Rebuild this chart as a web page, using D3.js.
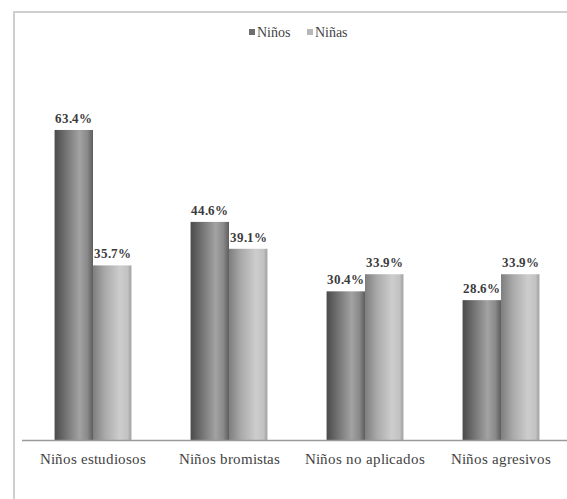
<!DOCTYPE html>
<html>
<head>
<meta charset="utf-8">
<script src="https://cdn.jsdelivr.net/npm/d3@7"></script>
<style>
  @font-face { font-family: "ChartSerif"; src: local("Liberation Serif"), local("LiberationSerif"); font-weight: normal; }
  @font-face { font-family: "ChartSerif"; src: local("Liberation Serif Bold"), local("LiberationSerif-Bold"); font-weight: bold; }
  html, body { margin: 0; padding: 0; background: #fff; }
  svg { display: block; }
</style>
</head>
<body>
<script>
// Chart data
const categories = ["Niños estudiosos", "Niños bromistas", "Niños no aplicados", "Niños agresivos"];
const seriesNames = ["Niños", "Niñas"];
const ninos = [63.4, 44.6, 30.4, 28.6];
const ninas = [35.7, 39.1, 33.9, 33.9];

const W = 567, H = 499;
const FONT = '"ChartSerif", "Liberation Serif", serif';
const svg = d3.select("body").append("svg").attr("width", W).attr("height", H)
  .style("font-family", FONT);

// Horizontal shading for the cylinder-like bars
const defs = svg.append("defs");
const gradDark = defs.append("linearGradient").attr("id", "gDark").attr("x1", 0).attr("x2", 1).attr("y1", 0).attr("y2", 0);
[[0, "#4a4a4a"], [0.35, "#7a7a7a"], [0.65, "#a2a2a2"], [0.85, "#8a8a8a"], [1, "#5e5e5e"]]
  .forEach(([o, c]) => gradDark.append("stop").attr("offset", o).attr("stop-color", c));
const gradLight = defs.append("linearGradient").attr("id", "gLight").attr("x1", 0).attr("x2", 1).attr("y1", 0).attr("y2", 0);
[[0, "#7e7e7e"], [0.3, "#a8a8a8"], [0.7, "#cdcdcd"], [0.9, "#c2c2c2"], [1, "#a0a0a0"]]
  .forEach(([o, c]) => gradLight.append("stop").attr("offset", o).attr("stop-color", c));

// Chart frame (top and left edges visible)
svg.append("path").attr("d", `M14,${H} L14,12 L${W},12`)
  .attr("fill", "none").attr("stroke", "#cfcfcf").attr("stroke-width", 2);

const baseY = 440;
const x0 = d3.scaleBand().domain(categories).range([25, 569]).paddingInner(0.435).paddingOuter(0.2175);
const x1 = d3.scaleBand().domain(seriesNames).range([0, x0.bandwidth()]);
const y = d3.scaleLinear().domain([0, 100]).range([baseY, baseY - 489]);

const rows = categories.map((c, i) => ({ cat: c, vals: [ninos[i], ninas[i]] }));

const groups = svg.append("g").selectAll("g").data(rows).join("g")
  .attr("transform", d => `translate(${x0(d.cat)},0)`);

groups.selectAll("rect").data(d => d.vals.map((v, j) => ({ v, s: seriesNames[j] })))
  .join("rect")
  .attr("x", d => x1(d.s))
  .attr("width", x1.bandwidth())
  .attr("y", d => y(d.v))
  .attr("height", d => baseY - y(d.v))
  .attr("fill", d => d.s === "Niños" ? "url(#gDark)" : "url(#gLight)");

groups.selectAll("text").data(d => d.vals.map((v, j) => ({ v, s: seriesNames[j] })))
  .join("text")
  .attr("x", d => x1(d.s) + x1.bandwidth() / 2)
  .attr("y", d => y(d.v) - 7)
  .attr("text-anchor", "middle")
  .style("font-family", FONT)
  .style("font-weight", "bold")
  .style("font-size", "13px")
  .style("fill", "#3a3a3a")
  .text(d => d.v.toFixed(1) + "%");

// Category axis
const axis = svg.append("g").attr("transform", `translate(0,${baseY})`)
  .call(d3.axisBottom(x0).tickSize(0).tickPadding(13))
  .attr("font-family", null);
axis.select(".domain").attr("d", `M22,0.5H${W}`).attr("stroke", "#9a9a9a").attr("stroke-width", 1.6);
axis.selectAll("text")
  .style("font-family", FONT)
  .style("font-size", "15px")
  .style("fill", "#3f3f3f");

// Legend
const legend = svg.append("g");
const legendX = [249, 307];
seriesNames.forEach((s, i) => {
  legend.append("rect").attr("x", legendX[i]).attr("y", 29).attr("width", 6).attr("height", 6)
    .attr("fill", i === 0 ? "#6e6e6e" : "#b8b8b8");
  legend.append("text").attr("x", legendX[i] + 8).attr("y", 37)
    .style("font-family", FONT)
    .style("font-size", "14px").style("fill", "#3f3f3f").text(s);
});
</script>
</body>
</html>
